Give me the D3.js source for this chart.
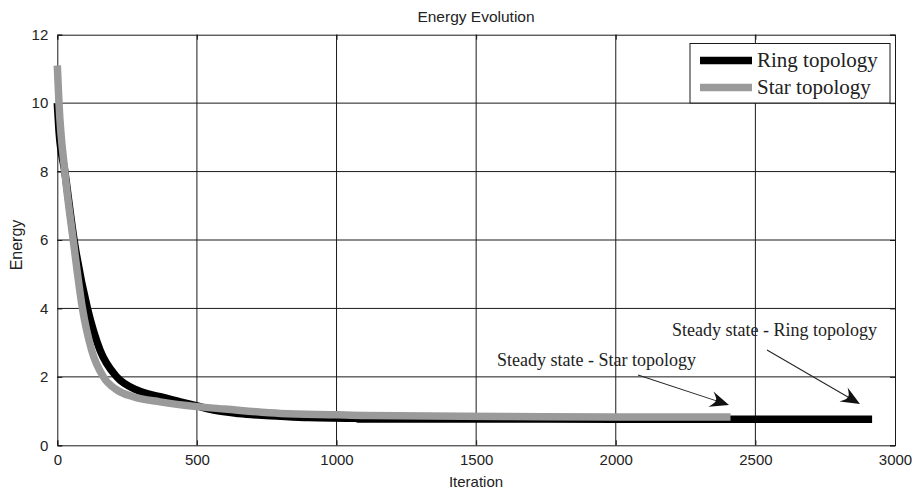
<!DOCTYPE html>
<html>
<head>
<meta charset="utf-8">
<script src="https://cdn.jsdelivr.net/npm/d3@7"></script>
<style>
  body { margin: 0; background: #fff; }
  svg text { fill: #222; }
</style>
</head>
<body>
<svg id="chart" width="916" height="494"></svg>
<script>
// values
const ringIter = [0, 6, 27, 60, 108, 153, 213, 284, 368, 440, 500, 560, 650, 800, 900, 1070, 1080, 1500, 2000, 2500, 2918];
const ringEnergy = [10, 9.2, 8.0, 6.0, 4.0, 2.78, 2.0, 1.62, 1.42, 1.27, 1.15, 1.03, 0.93, 0.85, 0.81, 0.79, 0.77, 0.77, 0.76, 0.76, 0.76];

const starIter = [0, 6, 27, 57, 90, 123, 165, 213, 272, 368, 500, 600, 800, 1000, 1100, 1600, 2000, 2411];
const starEnergy = [11.1, 10.0, 8.0, 6.0, 4.0, 2.78, 2.0, 1.62, 1.42, 1.27, 1.13, 1.06, 0.93, 0.89, 0.87, 0.84, 0.83, 0.83];

const xTicks = [0, 500, 1000, 1500, 2000, 2500, 3000];
const yTicks = [0, 2, 4, 6, 8, 10, 12];

const seriesNames = [`Ring topology`, `Star topology`];
const seriesColors = [`#000`, `#9a9a9a`];

const svg = d3.select(`#chart`);
const plotLeft = 57.3, plotRight = 895, plotTop = 34.7, plotBottom = 445.3;

const x = d3.scaleLinear().domain([0, 3000]).range([plotLeft, plotRight]);
const y = d3.scaleLinear().domain([0, 12]).range([plotBottom, plotTop]);

const sans = `Arial, "Liberation Sans", sans-serif`;
const serif = `"Times New Roman", "Liberation Serif", serif`;

// grid
svg.append(`g`)
  .selectAll(`line`)
  .data(xTicks.slice(1, -1))
  .enter().append(`line`)
    .attr(`x1`, d => x(d)).attr(`x2`, d => x(d))
    .attr(`y1`, plotTop).attr(`y2`, plotBottom)
    .attr(`stroke`, `#1a1a1a`).attr(`stroke-width`, 1);

svg.append(`g`)
  .selectAll(`line`)
  .data(yTicks.slice(1, -1))
  .enter().append(`line`)
    .attr(`x1`, plotLeft).attr(`x2`, plotRight)
    .attr(`y1`, d => y(d)).attr(`y2`, d => y(d))
    .attr(`stroke`, `#1a1a1a`).attr(`stroke-width`, 1);

// axes, ticks pointing inwards
const xAxis = svg.append(`g`)
  .attr(`transform`, `translate(0,${plotBottom})`)
  .call(d3.axisBottom(x).tickValues(xTicks).tickFormat(d3.format(`d`)).tickSize(-5).tickPadding(9));
const yAxis = svg.append(`g`)
  .attr(`transform`, `translate(${plotLeft},0)`)
  .call(d3.axisLeft(y).tickValues(yTicks).tickFormat(d3.format(`d`)).tickSize(-5).tickPadding(9));
svg.append(`g`)
  .attr(`transform`, `translate(0,${plotTop})`)
  .call(d3.axisTop(x).tickValues(xTicks).tickSize(-5).tickFormat(``));
svg.append(`g`)
  .attr(`transform`, `translate(${plotRight},0)`)
  .call(d3.axisRight(y).tickValues(yTicks).tickSize(-5).tickFormat(``));

svg.selectAll(`.domain`).attr(`stroke`, `#1a1a1a`);
svg.selectAll(`.tick line`).attr(`stroke`, `#1a1a1a`);
[xAxis, yAxis].forEach(a => a.selectAll(`text`)
  .style(`font-family`, sans).style(`font-size`, `15px`).attr(`fill`, `#333`));

// lines
const line = d3.line()
  .x(d => x(d[0]))
  .y(d => y(d[1]))
  .curve(d3.curveMonotoneX);

const ring = ringIter.map((d, i) => [d, ringEnergy[i]]);
const star = starIter.map((d, i) => [d, starEnergy[i]]);

[ring, star].forEach((s, i) => {
  svg.append(`path`)
    .datum(s)
    .attr(`d`, line)
    .attr(`fill`, `none`)
    .attr(`stroke`, seriesColors[i])
    .attr(`stroke-width`, 7.5)
    .attr(`stroke-linejoin`, `round`);
});

// title and labels
svg.append(`text`)
  .attr(`x`, 476).attr(`y`, 22)
  .attr(`text-anchor`, `middle`)
  .style(`font-family`, sans).style(`font-size`, `15.5px`)
  .text(`Energy Evolution`);

svg.append(`text`)
  .attr(`x`, 476).attr(`y`, 487)
  .attr(`text-anchor`, `middle`)
  .style(`font-family`, sans).style(`font-size`, `15px`)
  .text(`Iteration`);

svg.append(`text`)
  .attr(`transform`, `translate(22,245) rotate(-90)`)
  .attr(`text-anchor`, `middle`)
  .style(`font-family`, sans).style(`font-size`, `16px`)
  .text(`Energy`);

// legend
const legend = svg.append(`g`);
legend.append(`rect`)
  .attr(`x`, 690).attr(`y`, 43.5).attr(`width`, 200).attr(`height`, 59.5)
  .attr(`fill`, `#fff`).attr(`stroke`, `#1a1a1a`).attr(`stroke-width`, 1);
seriesNames.forEach((name, i) => {
  const ly = 60.5 + i * 27;
  legend.append(`line`)
    .attr(`x1`, 700).attr(`x2`, 752)
    .attr(`y1`, ly).attr(`y2`, ly)
    .attr(`stroke`, seriesColors[i]).attr(`stroke-width`, 7.5);
  legend.append(`text`)
    .attr(`x`, 757).attr(`y`, ly + 6.5)
    .style(`font-family`, serif).style(`font-size`, `21px`)
    .attr(`fill`, `#111`)
    .text(name);
});

// annotations
const notes = [
  { text: `Steady state - Ring topology`, tx: 672, ty: 336, from: [767, 350], to: [860, 404] },
  { text: `Steady state - Star topology`, tx: 497, ty: 366, from: [638, 375], to: [729, 405] }
];

notes.forEach(n => {
  svg.append(`text`)
    .attr(`x`, n.tx).attr(`y`, n.ty)
    .style(`font-family`, serif).style(`font-size`, `18px`)
    .attr(`fill`, `#111`)
    .text(n.text);

  const dx = n.to[0] - n.from[0], dy = n.to[1] - n.from[1];
  const len = Math.hypot(dx, dy);
  const ang = Math.atan2(dy, dx) * 180 / Math.PI;
  const g = svg.append(`g`)
    .attr(`transform`, `translate(${n.from[0]},${n.from[1]}) rotate(${ang})`);
  g.append(`line`)
    .attr(`x1`, 0).attr(`x2`, len - 10)
    .attr(`y1`, 0).attr(`y2`, 0)
    .attr(`stroke`, `#222`).attr(`stroke-width`, 1);
  g.append(`path`)
    .attr(`d`, `M${len},0 L${len - 19},-8 Q${len - 13},-2 ${len - 14},0 Q${len - 13},2 ${len - 19},8 Z`)
    .attr(`fill`, `#111`);
});
</script>
</body>
</html>
